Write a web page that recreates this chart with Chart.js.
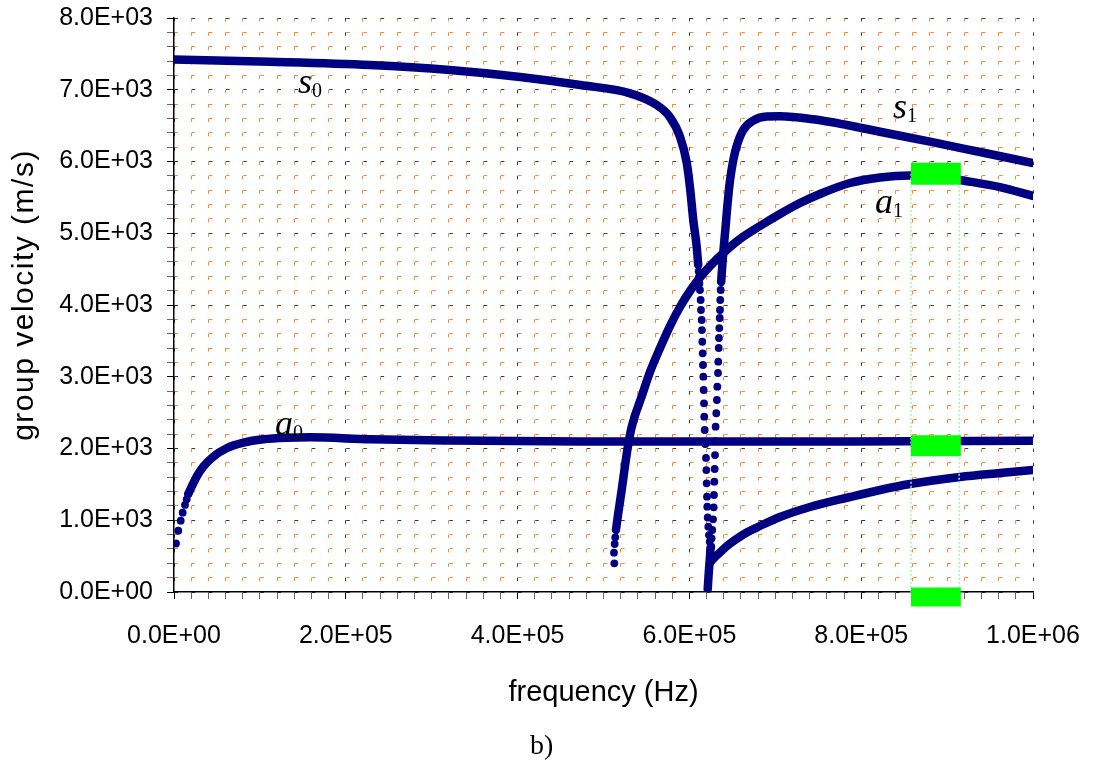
<!DOCTYPE html>
<html><head><meta charset="utf-8">
<script src="https://cdn.jsdelivr.net/npm/chart.js@4"></script>
<style>html,body{margin:0;padding:0;background:#fff;}canvas{display:block;}</style>
</head><body>
<canvas id="c" width="1093" height="763"></canvas>
<script>
// ---- data (frequency in Hz, group velocity in m/s) ----
const s0Line = [[0,7420],[112000,7390],[228000,7345],[321000,7275],[403000,7178],[473000,7066],[531000,6950],[562000,6787],[577000,6624],[589000,6346],[597000,5975],[601000,5603],[604500,5185],[608500,4812],[610300,4557]];
const s0Dots = [[610800,4470],[611200,4390],[611700,4300],[612300,4209],[613100,4070],[613500,3930],[614300,3791],[614600,3651],[615000,3488],[615500,3327],[615800,3164],[616200,3001],[616600,2815],[617000,2630],[617300,2443],[617800,2258],[618500,2063],[619300,1868],[619700,1700],[620100,1515],[620500,1328],[620800,1189],[621300,1038],[622000,910],[622800,794],[623600,701]];
const s1Dots = [[636400,4209],[635900,4070],[635600,3930],[635300,3819],[634800,3679],[634400,3540],[634100,3401],[633600,3210],[633300,3052],[632500,2861],[632000,2676],[631300,2491],[630500,2304],[630000,2104],[629800,1909],[629400,1714],[629000,1537],[628600,1352],[628300,1180],[627500,1013],[626600,864],[625900,748],[625500,631]];
const s1Line = [[637000,4320],[637900,4488],[639700,4766],[642000,5073],[644300,5394],[647200,5728],[651100,6021],[655400,6230],[662700,6439],[674400,6571],[690000,6627],[705400,6630],[744200,6588],[783100,6509],[821900,6415],[880100,6276],[938300,6132],[1000000,5979]];
const zgvStroke = [[621300,40],[622600,279],[624000,502],[624500,613]];
const lowBranch = [[624500,418],[629800,488],[635600,551],[643700,641],[653100,725],[666700,829],[682200,920],[705400,1045],[740400,1185],[786900,1324],[821900,1422],[856800,1505],[915000,1603],[961500,1658],[1000000,1700]];
const a1Dots = [[512600,400],[512200,548],[513000,669],[513700,762]];
const a1Line = [[514500,864],[517200,1101],[521200,1422],[525000,1756],[528900,2063],[532000,2258],[536100,2439],[543600,2697],[554100,3066],[565800,3401],[577400,3707],[589000,3972],[600700,4195],[612300,4383],[626300,4571],[641400,4746],[658900,4920],[682200,5101],[705400,5268],[728700,5421],[752000,5547],[786900,5700],[821900,5777],[856800,5805],[885900,5798],[918500,5735],[961500,5644],[1000000,5519]];
const a0Dots = [[2300,676],[5000,854],[7800,994],[10100,1105],[12800,1213],[14800,1292],[16600,1366]];
const a0Line = [[16600,1366],[20600,1468],[26400,1607],[34100,1746],[45700,1886],[61300,2003],[80700,2081],[104000,2128],[131200,2150],[158300,2156],[228200,2128],[321300,2111],[472600,2098],[612300,2098],[786900,2098],[1000000,2109]];
const bandFreq = [858000, 916000];
const bandVel = [5830, 2037, -70];
const bandLineFreq = [858000, 914000];
const bandLineVel = [5830, 0];
const xTicksMajor = 200000, xTicksStep = 20000, xMax = 1000000;
const yTicksMajor = 1000, yTicksStep = 200, yMax = 8000;
const xTitle = 'frequency (Hz)';
const yTitle = 'group velocity (m/s)';
const caption = 'b)';
const curveLabels = [
  {main:'s', sub:'0', f:144300, v:6950},
  {main:'s', sub:'1', f:837000, v:6606},
  {main:'a', sub:'0', f:117600, v:2188},
  {main:'a', sub:'1', f:816000, v:5282}
];

// ---- styling ----
const NAVY = '#000080';
const GREEN = '#00ff00';
const ORANGE = '#ff8533';
const MAJOR = '#3a3a3a';
const SANS = '"Liberation Sans", Arial, sans-serif';
const SERIF = '"Liberation Serif", "Times New Roman", serif';

const toPts = a => a.map(p => ({x:p[0], y:p[1]}));
const lineDs = (arr) => ({data: toPts(arr), showLine:true, borderColor:NAVY, borderWidth:8.5, pointRadius:0, cubicInterpolationMode:'monotone', borderCapStyle:'round', borderJoinStyle:'round', order:2});
const dotDs = (arr) => ({data: toPts(arr), showLine:false, pointRadius:3.9, pointBackgroundColor:NAVY, pointBorderWidth:0, borderColor:NAVY, order:2});

const datasets = [
  lineDs(s0Line), dotDs(s0Dots), dotDs(s1Dots), lineDs(s1Line),
  lineDs(zgvStroke), lineDs(lowBranch), dotDs(a1Dots), lineDs(a1Line),
  dotDs(a0Dots), lineDs(a0Line)
];
const bandWidths = [22, 21, 19];
bandVel.forEach((v, i) => datasets.push({
  data: bandFreq.map(f => ({x:f, y:v})), showLine:true, borderColor:GREEN, borderWidth:bandWidths[i],
  borderCapStyle:'butt', pointRadius:0, tension:0, clip:false, order:0
}));
bandLineFreq.forEach(f => datasets.push({
  data: bandLineVel.map(v => ({x:f, y:v})), showLine:true, borderColor:'#a8f5a8', borderWidth:1.5,
  borderDash:[2,2], pointRadius:0, tension:0, order:1
}));

function sci(v) {
  if (v === 0) return '0.0E+00';
  const e = Math.floor(Math.log10(Math.abs(v)) + 1e-9);
  const m = v / Math.pow(10, e);
  return m.toFixed(1) + 'E' + (e < 0 ? '-' : '+') + String(Math.abs(e)).padStart(2, '0');
}

const textPlugin = {
  id: 'texts',
  afterDraw(chart) {
    const {ctx, chartArea, scales} = chart;
    ctx.save();
    ctx.fillStyle = '#000';
    ctx.font = '29px ' + SANS;
    ctx.textAlign = 'center';
    ctx.textBaseline = 'alphabetic';
    ctx.fillText(xTitle, (chartArea.left + chartArea.right) / 2, 701);
    ctx.save();
    ctx.translate(25, 295);
    ctx.rotate(-Math.PI / 2);
    ctx.textBaseline = 'middle';
    ctx.font = '30px ' + SANS;
    if ('letterSpacing' in ctx) ctx.letterSpacing = '1.5px';
    ctx.fillText(yTitle, 0, 0);
    ctx.restore();
    ctx.font = '28px ' + SERIF;
    ctx.textAlign = 'left';
    ctx.fillText(caption, 530, 754);
    curveLabels.forEach(l => {
      const px = scales.x.getPixelForValue(l.f);
      const py = scales.y.getPixelForValue(l.v);
      ctx.font = 'italic 36px ' + SERIF;
      ctx.fillText(l.main, px, py);
      const w = ctx.measureText(l.main).width;
      ctx.font = '20px ' + SERIF;
      ctx.fillText(l.sub, px + w, py + 4);
    });
    ctx.restore();
  }
};

new Chart(document.getElementById('c'), {
  type: 'scatter',
  data: {datasets},
  options: {
    responsive: false,
    animation: false,
    events: [],
    layout: {padding: {top: 18, right: 60, left: 0, bottom: 0}},
    plugins: {legend: {display: false}, tooltip: {enabled: false}},
    scales: {
      x: {
        type: 'linear', min: 0, max: xMax,
        afterFit: s => { s.height = 171; s.paddingLeft = 0; s.paddingRight = 0; },
        ticks: {
          stepSize: xTicksStep, autoSkip: false, maxRotation: 0, minRotation: 0,
          padding: 22, color: '#000', font: {family: SANS, size: 25},
          callback: v => (Math.abs(v % xTicksMajor) < 1e-6 ? sci(v) : '')
        },
        grid: {
          color: c => (c.tick && Math.abs(c.tick.value % xTicksMajor) < 1e-6) ? MAJOR : ORANGE,
          tickColor: c => (c.tick && Math.abs(c.tick.value % xTicksMajor) < 1e-6) ? '#000' : '#666',
          lineWidth: 1, tickLength: 7
        },
        border: {display: true, color: '#000', width: 1.5, dash: [3.5, 10.85]}
      },
      y: {
        type: 'linear', min: 0, max: yMax,
        afterFit: s => { s.width = 174; s.paddingTop = 0; s.paddingBottom = 0; },
        ticks: {
          stepSize: yTicksStep, autoSkip: false,
          padding: 14, color: '#000', font: {family: SANS, size: 25},
          callback: v => (Math.abs(v % yTicksMajor) < 1e-6 ? sci(v) : '')
        },
        grid: {
          color: c => (c.tick && Math.abs(c.tick.value % yTicksMajor) < 1e-6) ? MAJOR : ORANGE,
          tickColor: c => (c.tick && Math.abs(c.tick.value % yTicksMajor) < 1e-6) ? '#000' : '#666',
          lineWidth: 1, tickLength: 7
        },
        border: {display: true, color: '#000', width: 1.5, dash: [3.5, 13.68]}
      }
    }
  },
  plugins: [textPlugin]
});
</script>
</body></html>
